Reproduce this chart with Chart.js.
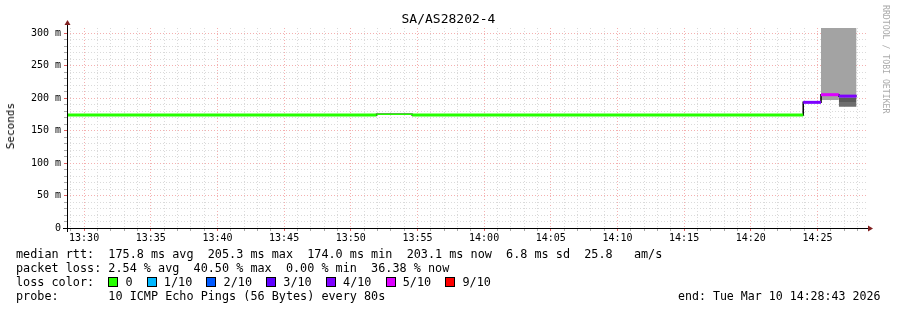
<!DOCTYPE html>
<html>
<head>
<meta charset="utf-8">
<script src="https://cdn.jsdelivr.net/npm/chart.js@4.4.1/dist/chart.umd.min.js"></script>
<style>
  body { margin: 0; background: #fff; }
  #wrap { position: relative; width: 897px; height: 310px; background: #fff; }
  #c { position: absolute; left: 0; top: 0; }
  .txt { position: absolute; font-family: "DejaVu Sans Mono", monospace; color: #000; white-space: pre; }
  .row { font-size: 11.8px; line-height: 14px; left: 16px; }
  .box { display: inline-block; width: 8px; height: 8px; border: 1px solid #000; vertical-align: -1px; }
  .vert { writing-mode: vertical-rl; }
</style>
</head>
<body>
<div id="wrap">
  <canvas id="c" width="897" height="310"></canvas>
  <div class="txt" id="title" style="font-size:13px;left:0;width:897px;text-align:center;top:11px;">SA/AS28202-4</div>
  <div class="txt vert" style="font-size:11px;left:4px;top:103px;transform:rotate(180deg);">Seconds</div>
  <div class="txt vert" style="font-size:8.2px;color:#aaa;left:881px;top:5px;">RRDTOOL / TOBI OETIKER</div>
  <div class="txt row" id="rtt" style="top:247px;"></div>
  <div class="txt row" id="loss" style="top:261px;"></div>
  <div class="txt row" id="lcol" style="top:275px;"></div>
  <div class="txt row" id="probe" style="top:289px;"></div>
  <div class="txt row" id="end" style="top:289px;left:678px;font-size:11.6px;"></div>
</div>
<script>
// Okno czasowe wykresu (ostatnia godzina)
const startTime = '13:28:43';
const endTime = '14:28:43';

// Mediana rtt: początek próbki, wartość (ms), strata (x/10)
const medTimes  = ['13:28:43', '13:51:56', '13:54:36', '14:23:56', '14:25:16', '14:26:36', '14:27:56'];
const medValues = [174.0, 175.2, 174.0, 193.5, 205.3, 203.1, 203.1];
const medLoss   = [0, 0, 0, 4, 5, 4, 4];
const sparseSample = 1; // próbka rysowana cienką linią

// Dym (rozrzut pingów) - jasny, od dolnej krawędzi do góry
const smokeTimes = ['14:25:16', '14:26:36', '14:27:56'];
const smokeLow   = [197.0, 201.0, 201.0];
const smokeTop   = 340.0;

// Ciemniejsze pasma dymu w ostatniej próbce
const bandFrom  = ['14:26:36', '14:26:36'];
const bandTo    = ['14:27:56', '14:27:56'];
const bandLow   = [194.0, 186.6];
const bandHigh  = [201.0, 194.0];
const bandShade = ['#5a5a5a', '#6e6e6e'];

// Legenda kolorów strat
const lossLabels = ['0', '1/10', '2/10', '3/10', '4/10', '5/10', '9/10'];
const lossColors = ['#26ff00', '#00b8ff', '#0059ff', '#5e00ff', '#7e00ff', '#dd00ff', '#ff0000'];
const lossKeys   = [0, 1, 2, 3, 4, 5, 9];

// Osie
const yMax = 308;
const yTickStep = 10;
const yLabelStep = 50;

// Teksty pod wykresem
const rttText   = 'median rtt:  175.8 ms avg  205.3 ms max  174.0 ms min  203.1 ms now  6.8 ms sd  25.8   am/s';
const lossText  = 'packet loss: 2.54 % avg  40.50 % max  0.00 % min  36.38 % now';
const probeText = 'probe:       10 ICMP Echo Pings (56 Bytes) every 80s';
const endText   = 'end: Tue Mar 10 14:28:43 2026';

function toMin(s) {
  const [h, m, sec] = s.split(':').map(Number);
  return h * 60 + m + (sec || 0) / 60;
}

function colorFor(loss) {
  return lossColors[lossKeys.indexOf(loss)];
}

function pad2(n) { return String(n).padStart(2, '0'); }

// Teksty
document.getElementById('rtt').textContent = rttText;
document.getElementById('loss').textContent = lossText;
document.getElementById('probe').textContent = probeText;
document.getElementById('end').textContent = endText;
const lcol = document.getElementById('lcol');
lcol.appendChild(document.createTextNode('loss color:  '));
lossLabels.forEach((lab, i) => {
  const b = document.createElement('span');
  b.className = 'box';
  b.style.background = lossColors[i];
  lcol.appendChild(b);
  lcol.appendChild(document.createTextNode(' ' + lab + '  '));
});

const xMin = toMin(startTime);
const xMax = toMin(endTime);

// Odcinki poziome mediany (bez pionowych łączników)
const medianPoints = [];
for (let i = 0; i < medTimes.length - 1; i++) {
  if (i > 0) medianPoints.push({ x: toMin(medTimes[i]), y: null });
  medianPoints.push({ x: toMin(medTimes[i]), y: medValues[i], loss: medLoss[i], idx: i });
  medianPoints.push({ x: toMin(medTimes[i + 1]), y: medValues[i], loss: medLoss[i], idx: i });
}

const connectorPoints = medTimes.map((t, i) => ({ x: toMin(t), y: medValues[i] }));

const datasets = [
  {
    data: medianPoints,
    borderWidth: 3,
    borderCapStyle: 'butt',
    pointRadius: 0,
    fill: false,
    spanGaps: false,
    segment: {
      borderColor: ctx => colorFor(medianPoints[ctx.p0DataIndex].loss),
      borderWidth: ctx => medianPoints[ctx.p0DataIndex].idx === sparseSample ? 1.5 : 3
    }
  },
  {
    data: connectorPoints,
    borderColor: '#000',
    borderWidth: 1.5,
    stepped: 'before',
    pointRadius: 0,
    fill: false
  }
];

bandFrom.forEach((f, i) => {
  datasets.push({
    data: [{ x: toMin(f), y: bandLow[i] }, { x: toMin(bandTo[i]), y: bandLow[i] }],
    borderWidth: 0, borderColor: 'transparent', pointRadius: 0, fill: false
  });
  datasets.push({
    data: [{ x: toMin(f), y: bandHigh[i] }, { x: toMin(bandTo[i]), y: bandHigh[i] }],
    borderWidth: 0, borderColor: 'transparent', pointRadius: 0,
    fill: '-1', backgroundColor: bandShade[i]
  });
});

datasets.push({
  data: smokeTimes.map((t, i) => ({ x: toMin(t), y: smokeLow[i] })),
  stepped: 'before', borderWidth: 0, borderColor: 'transparent', pointRadius: 0, fill: false
});
datasets.push({
  data: smokeTimes.map(t => ({ x: toMin(t), y: smokeTop })),
  stepped: 'before', borderWidth: 0, borderColor: 'transparent', pointRadius: 0,
  fill: '-1', backgroundColor: '#a3a3a3'
});

const minorGrid = '#dadada';
const majorGrid = '#f4b0b0';

// Strzałki i linie osi
const axisArrows = {
  id: 'axisArrows',
  afterDatasetsDraw(chart) {
    const { ctx, chartArea: a } = chart;
    ctx.save();
    ctx.strokeStyle = '#000';
    ctx.lineWidth = 1;
    ctx.beginPath();
    ctx.moveTo(a.left - 4, a.bottom + 0.5);
    ctx.lineTo(a.right + 2, a.bottom + 0.5);
    ctx.moveTo(a.left + 0.5, a.bottom + 4);
    ctx.lineTo(a.left + 0.5, a.top - 4);
    ctx.stroke();
    ctx.fillStyle = '#802020';
    ctx.beginPath();
    ctx.moveTo(a.right + 1, a.bottom - 2.5);
    ctx.lineTo(a.right + 6, a.bottom + 0.5);
    ctx.lineTo(a.right + 1, a.bottom + 3.5);
    ctx.closePath();
    ctx.fill();
    ctx.beginPath();
    ctx.moveTo(a.left - 2.5, a.top - 3);
    ctx.lineTo(a.left + 0.5, a.top - 8);
    ctx.lineTo(a.left + 3.5, a.top - 3);
    ctx.closePath();
    ctx.fill();
    ctx.restore();
  }
};

const tickFont = { family: 'DejaVu Sans Mono', size: 10 };

new Chart(document.getElementById('c'), {
  type: 'line',
  data: { datasets },
  plugins: [axisArrows],
  options: {
    responsive: false,
    animation: false,
    layout: { padding: { left: 0, right: 30, top: 28, bottom: 0 } },
    plugins: {
      legend: { display: false },
      tooltip: { enabled: false },
      title: { display: false }
    },
    scales: {
      x: {
        type: 'linear',
        min: xMin,
        max: xMax,
        afterBuildTicks: axis => {
          const ticks = [];
          for (let m = Math.ceil(xMin); m <= xMax; m++) ticks.push({ value: m });
          axis.ticks = ticks;
        },
        afterFit: scale => { scale.height = 82; },
        ticks: {
          autoSkip: false,
          maxRotation: 0,
          padding: 1,
          color: '#000',
          font: tickFont,
          callback: v => (v % 5 === 0 ? pad2(Math.floor(v / 60)) + ':' + pad2(v % 60) : '')
        },
        grid: {
          color: ctx => (ctx.tick && ctx.tick.value % 5 === 0 ? majorGrid : minorGrid),
          tickColor: ctx => (ctx.tick && ctx.tick.value % 5 === 0 ? '#e06060' : '#aaa'),
          tickLength: 3,
          lineWidth: 1
        },
        border: { display: false, dash: [1, 2] }
      },
      y: {
        type: 'linear',
        min: 0,
        max: yMax,
        afterBuildTicks: axis => {
          const ticks = [];
          for (let v = 0; v <= yMax; v += yTickStep) ticks.push({ value: v });
          axis.ticks = ticks;
        },
        afterFit: scale => { scale.width = 67; },
        ticks: {
          autoSkip: false,
          padding: 3,
          color: '#000',
          font: tickFont,
          callback: v => (v % yLabelStep === 0 ? (v === 0 ? '0' : v + ' m') : '')
        },
        grid: {
          color: ctx => (ctx.tick && ctx.tick.value % yLabelStep === 0 ? majorGrid : minorGrid),
          tickColor: ctx => (ctx.tick && ctx.tick.value % yLabelStep === 0 ? '#e06060' : '#aaa'),
          tickLength: 3,
          lineWidth: 1
        },
        border: { display: false, dash: [1, 2] }
      }
    }
  }
});
</script>
</body>
</html>
